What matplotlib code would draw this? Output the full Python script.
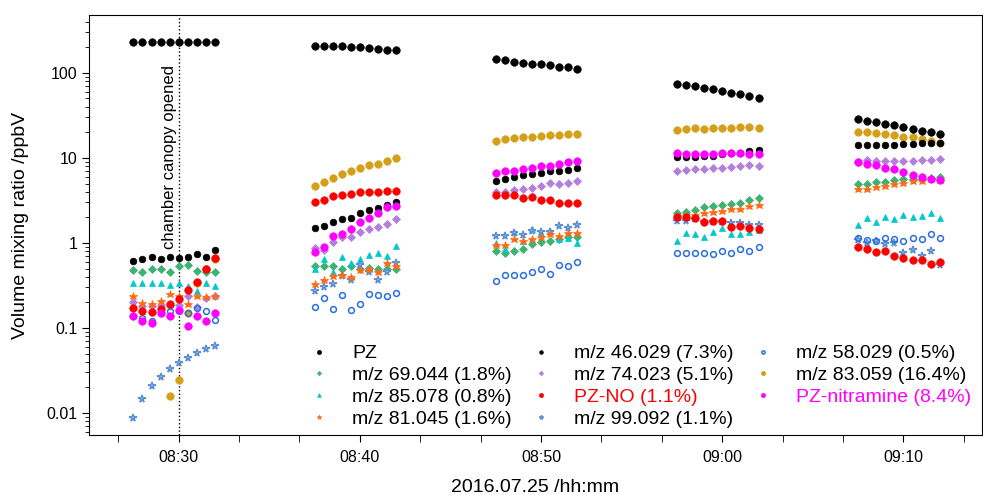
import numpy as np
import pandas as pd
import matplotlib
matplotlib.use("Agg")
import matplotlib.pyplot as plt
import matplotlib.dates as mdates

plt.rcParams['font.family'] = ['Liberation Sans', 'DejaVu Sans']

# sampling: 5 blocks of 10 samples, 30 s apart
block_starts = ["08:27:30", "08:37:30", "08:47:30", "08:57:30", "09:07:30"]
offsets_s = [0, 30, 60, 90, 120, 150, 180, 210, 240, 270]
times = [pd.Timestamp("2016-07-25 " + b) + pd.Timedelta(seconds=o)
         for b in block_starts for o in offsets_s]

nan = np.nan
pz = [230, 230, 232, 232, 234, 233, 231, 230, 230, 228,
      210, 210, 210, 208, 200, 200, 197, 190, 187, 187,
      145, 140, 136, 131, 129, 127, 123, 118, 117, 111,
      74.8, 71.6, 69.7, 66.1, 64.3, 61.9, 58.7, 56.1, 54.1, 50.8,
      29.0, 27.5, 26.3, 25.3, 24.5, 23.4, 22.1, 21.0, 20.2, 19.3]
mz46 = [0.62, 0.65, 0.69, 0.65, 0.68, 0.66, 0.68, 0.74, 0.68, 0.83,
        1.50, 1.58, 1.75, 1.93, 1.97, 2.27, 2.46, 2.58, 2.80, 3.01,
        5.41, 5.61, 6.03, 6.31, 6.53, 6.61, 7.03, 7.00, 7.16, 7.69,
        10.2, 10.2, 10.2, 10.4, 10.6, 11.1, 11.5, 11.5, 12.2, 12.3,
        14.2, 14.1, 14.1, 14.3, 14.3, 14.5, 14.6, 14.9, 15.1, 15.1]
mz58 = [0.14, 0.13, 0.12, 0.15, 0.158, 0.16, 0.15, 0.17, 0.158, 0.124,
        0.178, 0.225, 0.166, 0.243, 0.163, 0.19, 0.249, 0.247, 0.236, 0.258,
        0.36, 0.42, 0.42, 0.42, 0.46, 0.49, 0.43, 0.55, 0.53, 0.59,
        0.76, 0.76, 0.76, 0.76, 0.75, 0.80, 0.76, 0.85, 0.81, 0.89,
        1.14, 1.08, 1.06, 1.14, 1.10, 1.06, 1.14, 1.10, 1.26, 1.14]
mz69 = [0.48, 0.45, 0.49, 0.49, 0.46, 0.53, 0.55, 0.47, 0.45, 0.46,
        0.53, 0.53, 0.53, 0.50, 0.53, 0.49, 0.51, 0.50, 0.49, 0.50,
        0.80, 0.77, 0.81, 0.85, 0.97, 1.02, 1.04, 1.11, 1.17, 1.17,
        2.23, 2.32, 2.43, 2.67, 2.72, 2.80, 2.90, 2.98, 3.18, 3.41,
        4.94, 4.99, 5.26, 5.26, 5.51, 5.61, 5.70, 5.70, 5.82, 6.03]
mz74 = [0.204, 0.18, 0.18, 0.187, 0.18, 0.185, 0.235, 0.178, 0.223, 0.238,
        0.88, 0.83, 1.02, 1.17, 1.16, 1.34, 1.46, 1.56, 1.69, 1.90,
        3.98, 4.02, 4.20, 4.36, 4.40, 4.72, 5.04, 4.91, 5.13, 5.36,
        7.09, 7.28, 7.42, 7.42, 7.63, 7.69, 7.91, 8.05, 8.20, 8.05,
        9.0, 9.4, 9.3, 9.3, 9.3, 9.3, 9.3, 9.4, 9.4, 9.66]
mz83 = [nan, nan, nan, nan, 0.0158, 0.0244, 0.151, 0.34, 0.49, 0.64,
        4.65, 5.26, 5.82, 6.48, 7.03, 7.63, 8.27, 8.50, 9.22, 10.0,
        16.0, 16.7, 17.1, 17.4, 17.7, 18.3, 18.5, 18.7, 19.0, 19.0,
        21.5, 21.9, 22.3, 21.9, 22.5, 22.7, 22.7, 23.0, 23.0, 22.3,
        20.4, 20.0, 19.5, 19.0, 18.7, 17.8, 17.4, 16.7, 15.9, 15.1]
mz85 = [0.335, 0.335, 0.335, 0.335, 0.32, 0.335, 0.31, 0.27, 0.335, 0.315,
        0.49, 0.65, 0.46, 0.68, 0.58, 0.64, 0.72, 0.76, 0.70, 0.92,
        0.99, 0.84, 1.36, 1.06, 1.45, 1.30, 1.38, 1.10, 1.14, 0.99,
        1.04, 1.32, 1.26, 1.17, 1.34, 1.49, 1.28, 1.28, 1.35, 1.42,
        1.61, 1.97, 1.75, 2.02, 1.92, 2.13, 2.01, 2.09, 2.25, 1.97]
pz_no = [0.171, 0.16, 0.156, 0.166, 0.19, 0.22, 0.28, 0.35, 0.50, 0.66,
         3.01, 3.23, 3.54, 3.67, 3.80, 3.95, 3.95, 3.98, 4.05, 4.09,
         3.64, 3.64, 3.64, 3.36, 3.45, 3.21, 3.18, 2.98, 2.96, 2.96,
         2.04, 2.00, 1.95, 1.77, 1.83, 1.83, 1.56, 1.60, 1.51, 1.46,
         0.90, 0.84, 0.79, 0.81, 0.71, 0.67, 0.63, 0.63, 0.56, 0.59]
pz_nitramine = [0.138, 0.121, 0.115, 0.151, 0.138, 0.163, 0.106, 0.138, 0.121, 0.149,
                0.79, 0.90, 1.22, 1.26, 1.47, 1.77, 1.99, 2.27, 2.65, 2.75,
                6.71, 6.96, 7.03, 7.42, 7.57, 8.12, 8.12, 8.57, 8.97, 9.14,
                11.3, 11.2, 11.2, 11.1, 11.2, 11.3, 11.4, 11.4, 11.2, 11.0,
                9.04, 8.43, 8.20, 7.57, 7.42, 6.79, 6.37, 5.98, 5.61, 5.47]
mz81 = [0.238, 0.195, 0.19, 0.21, 0.25, 0.24, 0.19, 0.24, 0.23, 0.235,
        0.33, 0.37, 0.41, 0.42, 0.40, 0.48, 0.50, 0.46, 0.58, 0.54,
        0.94, 0.94, 1.11, 1.06, 1.11, 1.18, 1.28, 1.20, 1.30, 1.31,
        2.08, 2.12, 2.14, 2.27, 2.33, 2.40, 2.49, 2.51, 2.70, 2.80,
        4.29, 4.36, 4.52, 4.69, 4.99, 5.04, 5.36, 5.36, 5.66, 5.51]
mz99 = [0.0088, 0.0147, 0.0208, 0.0267, 0.033, 0.0385, 0.0444, 0.0504, 0.0562, 0.062,
        0.27, 0.30, 0.33, 0.41, 0.37, 0.55, 0.45, 0.37, 0.46, 0.58,
        1.19, 1.19, 1.30, 1.24, 1.38, 1.36, 1.36, 1.60, 1.51, 1.61,
        1.80, 1.80, 1.93, 1.78, 1.77, 1.78, 1.71, 1.71, 1.64, 1.63,
        1.08, 1.01, 1.06, 0.97, 0.99, 0.76, 0.83, 0.71, 0.81, 0.55]

canopy_open = pd.Timestamp("2016-07-25 08:30:00")

fig = plt.figure(figsize=(9.83, 4.95), dpi=100)
ax = fig.add_axes([89 / 983, 60 / 495, 893 / 983, 420 / 495])

# (label, values, marker, size, face, edge, zorder)
series = [
    ("PZ", pz, "o", 5.4, "black", "black", 3),
    ("m/z 69.044 (1.8%)", mz69, "D", 4.0, "#3cb371", "#3cb371", 3),
    ("m/z 85.078 (0.8%)", mz85, "^", 4.8, "#00c8cc", "#00c8cc", 3),
    ("m/z 81.045 (1.6%)", mz81, "*", 6.2, "#ff6a13", "#ff6a13", 4),
    ("m/z 46.029 (7.3%)", mz46, "o", 4.8, "black", "black", 3),
    ("m/z 74.023 (5.1%)", mz74, "D", 4.0, "#b57ede", "#b57ede", 3),
    ("PZ-NO (1.1%)", pz_no, "o", 5.4, "#ff0000", "#ff0000", 4),
    ("m/z 99.092 (1.1%)", mz99, "*", 5.4, "white", "#5b8fd4", 3),
    ("m/z 58.029 (0.5%)", mz58, "o", 4.2, "none", "#2a6fe0", 3),
    ("m/z 83.059 (16.4%)", mz83, "o", 5.4, "#d4a017", "#d4a017", 2),
    ("PZ-nitramine (8.4%)", pz_nitramine, "o", 5.4, "#ff00ff", "#ff00ff", 4),
]

for label, vals, mk, ms, fc, ec, z in series:
    ax.plot(times, vals, linestyle="none", marker=mk, markersize=ms,
            markerfacecolor=fc, markeredgecolor=ec,
            markeredgewidth=1.1 if fc in ("none", "white") else 0.5,
            label=label, zorder=z)

ax.axvline(canopy_open, color="black", linestyle=":", linewidth=1.0, zorder=1)
ax.text(canopy_open - pd.Timedelta(seconds=6), 0.85, "chamber canopy opened",
        rotation=90, ha="right", va="bottom", fontsize=12)

ax.set_yscale("log")
ax.set_ylim(0.0055, 480)
ax.set_xlim(pd.Timestamp("2016-07-25 08:25:03"), pd.Timestamp("2016-07-25 09:14:20"))
ax.set_yticks([0.01, 0.1, 1, 10, 100])
ax.set_yticklabels(["0.01", "0.1", "1", "10", "100"])
ax.xaxis.set_major_locator(mdates.MinuteLocator(byminute=[0, 10, 20, 30, 40, 50]))
minor_ticks = pd.date_range("2016-07-25 08:26:40", "2016-07-25 09:14:00", freq="200s")
ax.set_xticks(minor_ticks, minor=True)
ax.xaxis.set_major_formatter(mdates.DateFormatter("%H:%M"))
ax.tick_params(axis="both", which="major", direction="out", length=5, labelsize=11.5)
ax.tick_params(axis="x", which="major", pad=6)
ax.tick_params(axis="both", which="minor", direction="out", length=3)
ax.tick_params(axis="x", which="minor", length=5)

ax.set_ylabel("Volume mixing ratio /ppbV", fontsize=14, labelpad=12)
ax.set_xlabel("2016.07.25 /hh:mm", fontsize=14, labelpad=10)

leg = ax.legend(ncol=3, loc="lower left", bbox_to_anchor=(0.227, -0.025),
                frameon=False, fontsize=14, markerscale=0.55,
                handlelength=1.0, handletextpad=1.2, columnspacing=1.0,
                labelspacing=0.22)
for txt in leg.get_texts():
    if txt.get_text().startswith("PZ-NO"):
        txt.set_color("#ff0000")
    elif txt.get_text().startswith("PZ-nitramine"):
        txt.set_color("#ff00ff")

fig.savefig("out.png", dpi=100)
